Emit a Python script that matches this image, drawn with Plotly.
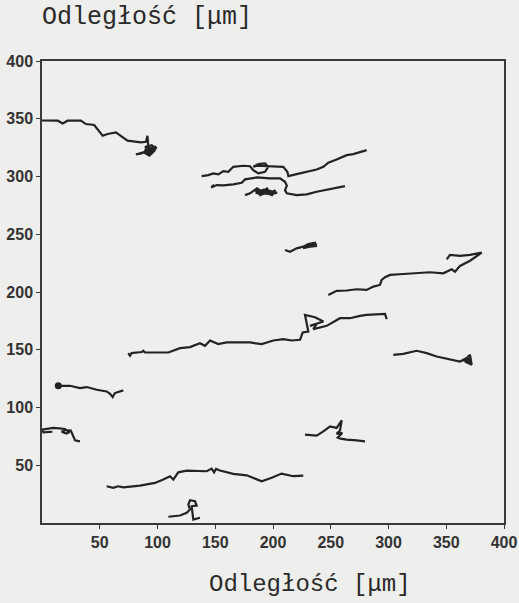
import plotly.graph_objects as go

# ---- data, micrometres ----
track1_x = [0, 13.6, 17.9, 22.2, 33.7, 38, 45.2, 52.5, 56.8, 64, 74, 85.6, 90, 91.3, 92, 89, 95, 98.5, 96, 92, 94, 90, 86, 81.3, 88, 93, 97, 91, 95, 99, 93, 89, 96, 92]
track1_y = [348.5, 348.3, 345.9, 348.3, 348.3, 345.4, 344.6, 335.3, 336.8, 338.2, 331, 329.6, 330, 335.3, 327, 325, 327, 324.5, 321, 324, 319, 322, 320, 319.1, 321, 318, 322, 326, 323, 326, 320, 323, 325, 321]

track2_x = [138.2, 144, 148.3, 152.7, 157, 161.3, 165.6, 174.3, 180.1, 182.9, 187.3, 193.1, 195.9, 193.1, 187.3, 182.9, 186.1, 197.4, 208.9, 212.4, 213.3, 220.5, 229.2, 237.8, 243.6, 247.9, 255.1, 263.8, 269.5, 281.1]
track2_y = [300.3, 301.2, 302.7, 301.8, 304.7, 304.1, 308.4, 309.3, 308.9, 305.5, 302.7, 304.1, 308.4, 311.3, 310.7, 308.4, 309.3, 308.9, 308.4, 304.1, 300.3, 302.1, 304.1, 306.1, 308.4, 311.9, 314.8, 318.5, 319.4, 322.8]

track3_x = [146.9, 149, 146.5, 151.3, 157, 165.6, 172.9, 175.8, 185.9, 197.4, 206.1, 210.4, 212, 210.4, 211.9, 220.5, 229.2, 237.8, 249.4, 262.3]
track3_y = [291.1, 292.8, 290.5, 292.6, 292.3, 293.2, 294.6, 297.5, 299.2, 298.4, 298.4, 295.4, 292, 288.2, 285.4, 283.9, 284.5, 286.8, 289.1, 291.7]

track4_x = [175.8, 180.1, 186.1, 190.4, 194.8, 197.7, 202, 199.1, 193.4, 189, 184.7, 196.3, 203.5, 198, 188, 192, 199, 185, 190, 201]
track4_y = [283.9, 285.4, 289.7, 286.8, 289.7, 285.4, 288.2, 283.9, 285.9, 283.9, 288.2, 287.7, 285.9, 284.5, 286.5, 288.5, 287, 286, 284.5, 287]

track5_x = [210.4, 214.7, 220.5, 226.2, 230.6, 236.4, 237.2, 232, 226, 234, 238]
track5_y = [236.4, 234.9, 237.8, 239.3, 241.6, 242.7, 239.8, 239.3, 238, 241, 241]

track6_x = [247.9, 250.8, 255.1, 263.8, 272.5, 281.1, 286.9, 292.6, 294.1, 297, 301.3, 312.8, 324.4, 335.9, 347.5, 354.7, 357.6, 361.9, 370.6, 380.7, 370.6, 361.9, 353.2, 350.4]
track6_y = [197.5, 199, 201, 201.3, 202.4, 201.8, 204.7, 206.1, 210.5, 212.8, 214.8, 215.6, 216.2, 217.1, 216.2, 219.7, 217.6, 222.6, 227.1, 234.1, 232.1, 231.2, 232.1, 228.3]

track7_x = [74.7, 76.2, 77.6, 86.3, 87.7, 89.2, 109.4, 119.5, 128.1, 136.8, 141.1, 145.5, 152.6, 159.9, 180.1, 190.2, 200.3, 208.9, 216.2, 223.4, 225.7, 230.6, 227.7, 236.4, 243.6, 232, 237.8, 234.9, 246.5, 258, 266.7, 275.3, 281.1, 297, 298.4]
track7_y = [147.1, 144.8, 147.1, 148, 149.1, 147.6, 147.6, 151.4, 152.3, 155.7, 153.4, 158, 154.9, 156.3, 156.3, 154.9, 158, 159.2, 158, 158.6, 164.9, 165.8, 180.2, 178.2, 174.4, 170.7, 172.4, 167.8, 170.7, 177.3, 177.3, 179.3, 180.2, 181.1, 176.5]

track8_x = [304.2, 312.8, 324.4, 333.1, 341.7, 347.5, 356.1, 361.9, 367.7, 370.6, 372, 366.2, 369.1, 364, 371, 368]
track8_y = [145.6, 146.5, 149.1, 147.1, 144.2, 142.8, 141.3, 139.8, 142.8, 145.6, 137, 139.8, 141.3, 141, 140, 143.5]

track9_x = [14.1, 24.2, 32.9, 38.7, 47.4, 56, 58.9, 61.2, 63.1, 70.4]
track9_y = [118.8, 118.8, 116.8, 117.7, 115.4, 113.9, 111.9, 109.1, 112.5, 114.8]

track10_x = [9, 1.2, 0, 9.8, 15, 19.9, 23.7, 21, 17, 20, 24.9, 27.1, 28.6, 32.9]
track10_y = [79, 78.5, 80.8, 82.3, 82, 81.4, 78.5, 77.5, 79, 80.5, 80, 75, 71.6, 70.7]

track11_x = [56, 61.7, 65.8, 70.4, 84.8, 97.8, 105, 110.8, 113.7, 118, 125.3, 142.6, 146.9, 149, 150.7, 154.1, 165.6, 177.2, 190.2, 198.9, 207.5, 217.6, 226.2]
track11_y = [31.8, 30.4, 31.8, 30.9, 32.4, 34.7, 37.6, 40.5, 37.6, 43.9, 45.4, 44.8, 47.1, 43.9, 46.8, 45.4, 42.5, 41.3, 36.1, 39.1, 42.8, 40.5, 41.1]

track12_x = [109.4, 119.5, 125.3, 128.1, 126.7, 128.1, 132.5, 133.9, 129.6, 131, 136.8]
track12_y = [5.4, 6.5, 8.8, 11.7, 16, 19.7, 18.8, 15.1, 14.5, 3, 4.5]

track13_x = [227.7, 237.8, 243.6, 249.4, 255.1, 259.5, 258, 255.1, 260, 256, 258.5, 263.8, 272.5, 279.7]
track13_y = [76.5, 75.6, 79.3, 83.7, 82.3, 88.9, 80.1, 77.2, 78, 74, 73, 72.2, 71.6, 70.7]

tick_vals = [50, 100, 150, 200, 250, 300, 350, 400]
tick_text = ["50", "100", "150", "200", "250", "300", "350", "400"]
axis_title = "Odległość [μm]"

tracks = [
    (track1_x, track1_y), (track2_x, track2_y), (track3_x, track3_y),
    (track4_x, track4_y), (track5_x, track5_y), (track6_x, track6_y),
    (track7_x, track7_y), (track8_x, track8_y), (track9_x, track9_y),
    (track10_x, track10_y), (track11_x, track11_y), (track12_x, track12_y),
    (track13_x, track13_y),
]

INK = "#232323"
PAPER = "#eeeeec"

fig = go.Figure()
for tx, ty in tracks:
    fig.add_trace(go.Scatter(x=tx, y=ty, mode="lines",
                             line=dict(color=INK, width=2.2),
                             showlegend=False, hoverinfo="skip"))
# thick start dot of the track near y≈118
fig.add_trace(go.Scatter(x=[track9_x[0]], y=[track9_y[0]], mode="markers",
                         marker=dict(color=INK, size=7), showlegend=False,
                         hoverinfo="skip"))

tickfont = dict(family="Liberation Sans", size=16, color="#333333", weight="bold")
axis_common = dict(
    range=[0, 400], tickvals=tick_vals, ticktext=tick_text,
    showgrid=False, zeroline=False, showline=True, mirror=True,
    linecolor="#3a3a3a", linewidth=1.5, ticks="outside", ticklen=4,
    tickcolor="#3a3a3a", tickfont=tickfont, automargin=False,
)

fig.update_layout(
    width=519, height=603,
    margin=dict(l=42, r=15, t=61, b=80),
    paper_bgcolor=PAPER, plot_bgcolor=PAPER,
    xaxis=dict(**axis_common),
    yaxis=dict(**axis_common),
    font=dict(family="Liberation Sans"),
    annotations=[
        dict(text=axis_title, xref="paper", yref="paper", x=-0.005, y=1.094,
             xanchor="left", yanchor="middle", showarrow=False,
             font=dict(family="Liberation Mono", size=25, color="#2a2a2a")),
        dict(text=axis_title, xref="paper", yref="paper", x=0.58, y=-0.133,
             xanchor="center", yanchor="middle", showarrow=False,
             font=dict(family="Liberation Mono", size=24, color="#2a2a2a")),
    ],
)
fig.write_html(
    "out.html",
    config={"displayModeBar": False},
    post_script="document.body.style.margin='0';document.body.style.overflow='hidden';",
)
